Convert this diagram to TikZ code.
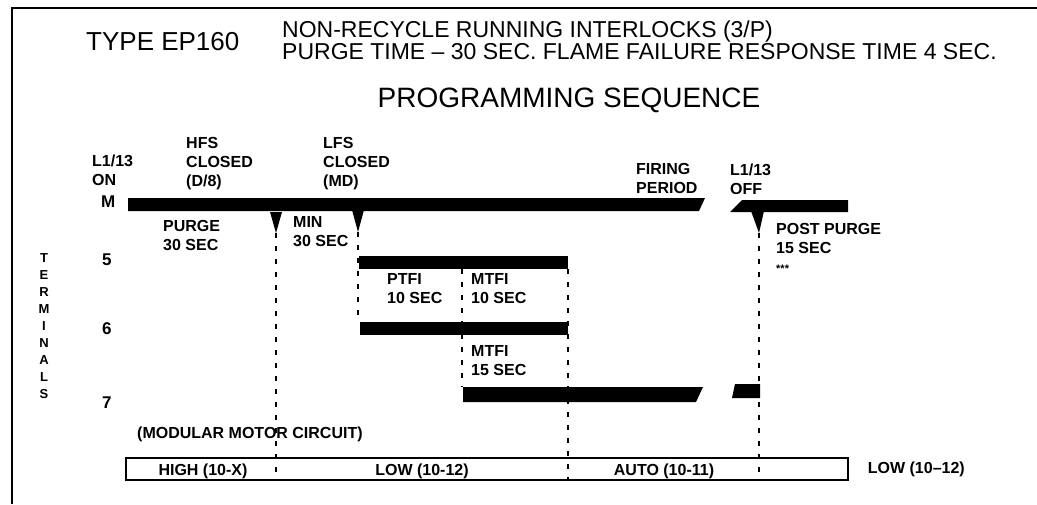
\documentclass[tikz,border=0pt]{standalone}
\usepackage{fontspec}
\setmainfont{Liberation Sans}
\usetikzlibrary{positioning}
\tikzset{
  frameline/.style={line width=2pt},
  timebar/.style={fill=black, draw=none},
  cutline/.style={line width=1.4pt, dash pattern=on 5pt off 8pt},
  bigtxt/.style={anchor=base west, inner sep=0pt, font=\fontsize{26}{30}\selectfont},
  headtxt/.style={anchor=base west, inner sep=0pt, align=left, font=\fontsize{23}{19}\selectfont},
  lbl/.style={anchor=base west, inner sep=0pt, align=left,
    font=\fontsize{16}{19}\selectfont\bfseries},
  termno/.style={anchor=base west, inner sep=0pt, font=\fontsize{17}{20}\selectfont\bfseries},
  termcol/.style={anchor=base, inner sep=0pt, align=center,
    font=\fontsize{13}{17}\selectfont\bfseries},
  modebox/.style={draw, line width=1.4pt, minimum width=722pt, minimum height=22pt, inner sep=0pt},
  boxtxt/.style={anchor=base, inner sep=0pt, font=\fontsize{16}{18}\selectfont\bfseries}
}

\begin{document}
\begin{tikzpicture}[x=1pt, y=-1pt]
  \useasboundingbox (0,0) rectangle (1037,504);
  \draw[frameline] (1037,8) -- (12,8) -- (12,504);

  % heading
  \node[bigtxt] (type) at (86,50) {TYPE EP160};
  \node[headtxt] (hdr) at (282,59) {NON-RECYCLE RUNNING INTERLOCKS (3/P)\\
    PURGE TIME – 30 SEC. FLAME FAILURE RESPONSE TIME 4 SEC.};
  \node[bigtxt, anchor=base, font=\fontsize{28}{30}\selectfont] (prog) at (569,107) {PROGRAMMING SEQUENCE};

  % labels over the M line
  \node[lbl] (lon) at (92,185) {L1/13\\ON};
  \node[lbl] (hfs) at (186,186) {HFS\\CLOSED\\(D/8)};
  \node[lbl] (lfs) at (323,186) {LFS\\CLOSED\\(MD)};
  \node[lbl] (fire) at (636,193) {FIRING\\PERIOD};
  \node[lbl] (loff) at (730,194) {L1/13\\OFF};

  % terminals
  \node[termcol] (terms) at (44,398) {T\\E\\R\\M\\I\\N\\A\\L\\S};
  \node[termno] (tm) at (101,207) {M};
  \node[termno] (t5) at (102,265) {5};
  \node[termno] (t6) at (102,334) {6};
  \node[termno] (t7) at (102,408) {7};

  % mode box
  \node[modebox] (mode) at (487,469) {};
  \node[boxtxt] (high) at (203,475) {HIGH (10-X)};
  \node[boxtxt] (lowa) at (422,475) {LOW (10-12)};
  \node[boxtxt] (auto) at (664,475) {AUTO (10-11)};
  \node[boxtxt, right=19pt of mode] (lowb) {LOW (10–12)};
  \node[boxtxt, anchor=base west] (motor) at (137,438) {(MODULAR MOTOR CIRCUIT)};

  % time marks
  \coordinate (tipA) at (276,233);
  \coordinate (tipB) at (358,232);
  \coordinate (tipC) at (759,233);
  \coordinate (b5a) at (462,269);
  \coordinate (b5b) at (568,269);
  \coordinate (b6) at (360,322);
  \coordinate (b7) at (463,387);
  \draw[cutline] (tipA) -- (tipA |- mode.south);
  \draw[cutline] (tipB) -- (tipB |- b6);
  \draw[cutline] (b5a) -- (b5a |- b7);
  \draw[cutline] (b5b) -- (b5b |- mode.south);
  \draw[cutline] (tipC) -- (tipC |- mode.south);

  % bars
  \fill[timebar] (128,198) -- (705,198) -- (699,211) -- (128,211) -- cycle;
  \fill[timebar] (742,200) -- (848,200) -- (848,212) -- (730,212) -- cycle;
  \fill[timebar] (270,212) -- (282,212) -- (tipA) -- cycle;
  \fill[timebar] (352,210) -- (364,210) -- (tipB) -- cycle;
  \fill[timebar] (751,211) -- (764,211) -- (tipC) -- cycle;
  \fill[timebar] (359,256) rectangle (568,269);
  \fill[timebar] (b6) rectangle (568,335);
  \fill[timebar] (b7) -- (703,387) -- (696,402) -- (463,402) -- cycle;
  \fill[timebar] (735,384) -- (760,384) -- (760,398) -- (732,398) -- cycle;

  % times
  \node[lbl] (purge) at (163,250) {PURGE\\30 SEC};
  \node[lbl] (mintime) at (293,246) {MIN\\30 SEC};
  \node[lbl] (post) at (776,272) {POST PURGE\\15 SEC\\{\fontsize{11}{10}\selectfont ***}};
  \node[lbl] (ptfi) at (387,303) {PTFI\\10 SEC};
  \node[lbl] (mtfia) at (471,303) {MTFI\\10 SEC};
  \node[lbl] (mtfib) at (471,375) {MTFI\\15 SEC};
\end{tikzpicture}
\end{document}
